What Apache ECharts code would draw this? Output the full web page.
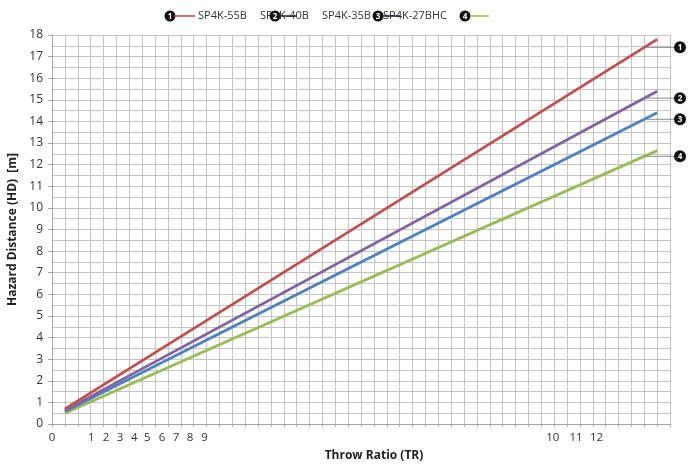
<!DOCTYPE html>
<html><head><meta charset="utf-8">
<script src="https://cdn.jsdelivr.net/npm/echarts@6/dist/echarts.min.js"></script>
<style>html,body{margin:0;padding:0;background:#fff}#c{width:690px;height:464px}</style>
</head><body><div id="c"></div>
<script>
const seriesNames = ['SP4K-55B', 'SP4K-40B', 'SP4K-35B', 'SP4K-27BHC'];
const calloutLabels = ['1', '2', '3', '4'];
const xPoints = [1, 47];
const sp4k55b = [0.7, 17.8];
const sp4k40b = [0.63, 15.4];
const sp4k35b = [0.58, 14.4];
const sp4k27bhc = [0.5, 12.65];
const xTickLabels = ['0', '1', '2', '3', '4', '5', '6', '7', '8', '9', '10', '11', '12'];
const xTickPositions = [0, 3.06, 4.2, 5.29, 6.4, 7.41, 8.55, 9.64, 10.73, 11.84, 38.9, 40.7, 42.3];
const calloutX = 46;

const colors = ['#c0504d', '#8064a2', '#4f81bd', '#9bbb59'];
const values = [sp4k55b, sp4k40b, sp4k35b, sp4k27bhc];
const FONT = '"Open Sans", "Noto Sans", sans-serif';

const chart = echarts.init(document.getElementById('c'), null, {renderer: 'canvas'});

const series = values.map((vals, i) => ({
  name: seriesNames[i],
  type: 'line',
  data: xPoints.map((x, j) => [x, vals[j]]),
  showSymbol: false,
  symbol: 'none',
  lineStyle: {color: colors[i], width: 2.8},
  itemStyle: {color: colors[i]},
  z: 10 - i,
  silent: true
}));

chart.setOption({
  animation: false,
  backgroundColor: '#ffffff',
  grid: {left: 52, right: 20, top: 35, bottom: 40, containLabel: false, outerBoundsMode: 'none'},
  xAxis: {
    type: 'value', min: 0, max: 48, interval: 1,
    name: 'Throw Ratio (TR)', nameLocation: 'middle', nameGap: 26,
    nameTextStyle: {fontFamily: FONT, fontWeight: 'bold', fontSize: 12, color: '#222', padding: [0, 0, 0, 26]},
    axisLine: {show: true, lineStyle: {color: '#a6a6a6', width: 1}},
    axisTick: {show: true, length: 3, lineStyle: {color: '#a6a6a6'}},
    splitLine: {show: true, lineStyle: {color: '#c4c4c4', width: 1}},
    axisLabel: {
      customValues: xTickPositions,
      formatter: function (v) {
        for (let i = 0; i < xTickPositions.length; i++) {
          if (Math.abs(xTickPositions[i] - v) < 1e-6) return xTickLabels[i];
        }
        return '';
      },
      fontFamily: FONT, fontSize: 11.5, color: '#333', margin: 8
    }
  },
  yAxis: {
    type: 'value', min: 0, max: 18, interval: 1,
    name: 'Hazard Distance (HD)  [m]', nameLocation: 'middle', nameGap: 30,
    nameTextStyle: {fontFamily: FONT, fontWeight: 'bold', fontSize: 12, color: '#222'},
    axisLine: {show: true, lineStyle: {color: '#a6a6a6', width: 1}},
    axisTick: {show: true, length: 4, lineStyle: {color: '#a6a6a6'}},
    splitLine: {show: true, lineStyle: {color: '#c4c4c4', width: 1}},
    minorTick: {show: false, splitNumber: 2},
    minorSplitLine: {show: true, lineStyle: {color: '#c4c4c4', width: 1}},
    axisLabel: {fontFamily: FONT, fontSize: 12, color: '#333', margin: 9}
  },
  series: series
});

function numCircle(cx, cy, txt, r) {
  return [
    {type: 'circle', shape: {cx: cx, cy: cy, r: r}, style: {fill: '#111'}, z: 100},
    {type: 'text', x: cx, y: cy + 0.5, style: {text: txt, fill: '#fff', font: 'bold 8px ' + FONT, align: 'center', verticalAlign: 'middle'}, z: 101}
  ];
}

const g = [];
// callouts
values.forEach((vals, i) => {
  const slope = (vals[1] - vals[0]) / (xPoints[1] - xPoints[0]);
  const yv = vals[0] + slope * (calloutX - xPoints[0]);
  const p = chart.convertToPixel({gridIndex: 0}, [calloutX, yv]);
  g.push({type: 'line', shape: {x1: p[0], y1: p[1], x2: 678, y2: p[1]}, style: {stroke: '#8a8a8a', lineWidth: 1}, z: 99});
  g.push(...numCircle(680, p[1], calloutLabels[i], 6));
});
// legend (as in the reference, overlapped)
const legText = [[198, seriesNames[0]], [260, seriesNames[1]], [322, seriesNames[2]], [383, seriesNames[3]]];
legText.forEach(t => g.push({type: 'text', x: t[0], y: 16, style: {text: t[1], fill: '#333', font: '11px ' + FONT, verticalAlign: 'middle'}, z: 100}));
const legItems = [[170, 174, 195], [275, 279, 297], [378, 382, 400], [465, 471, 489]];
legItems.forEach((it, i) => {
  g.push({type: 'line', shape: {x1: it[1], y1: 16, x2: it[2], y2: 16}, style: {stroke: i === 1 || i === 2 ? '#2a3340' : colors[i], lineWidth: 1.6}, z: 101});
  g.push(...numCircle(it[0], 16, calloutLabels[i], 5.5));
});
chart.setOption({graphic: {elements: g}});
</script></body></html>
